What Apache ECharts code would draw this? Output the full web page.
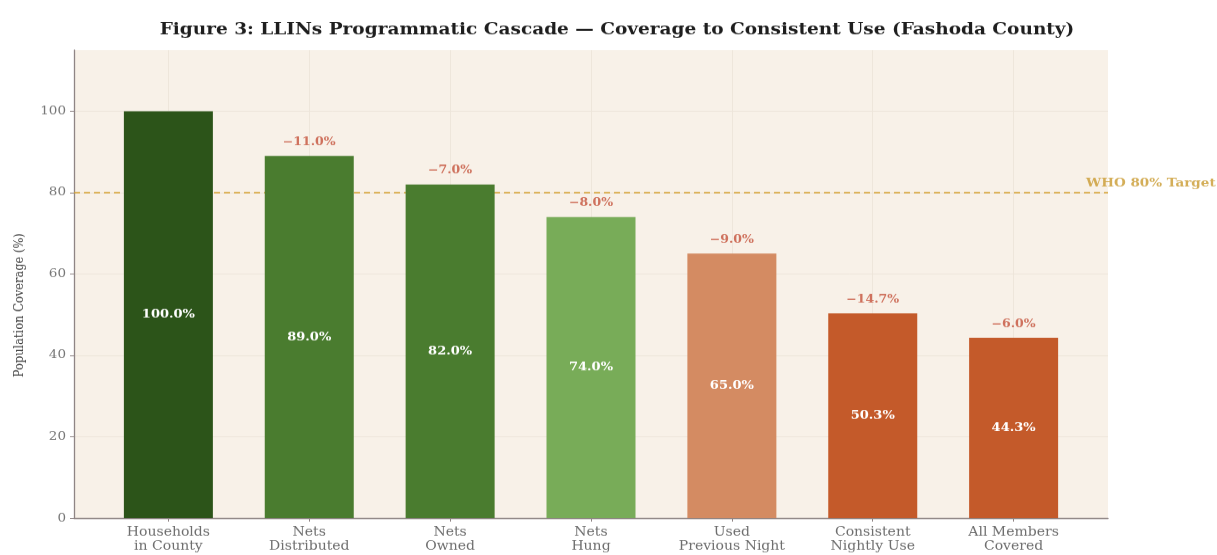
<!DOCTYPE html>
<html>
<head>
<meta charset="utf-8">
<title>LLINs Programmatic Cascade</title>
<script src="https://cdn.jsdelivr.net/npm/echarts@6/dist/echarts.min.js"></script>
<style>
  html, body { margin: 0; padding: 0; background: #ffffff; overflow: hidden; }
  #frame { width: 1217px; height: 555px; overflow: hidden; }
  /* The figure is laid out on a taller canvas and pressed to the page height,
     giving the wide, flattened lettering of the printed figure. */
  #chart { width: 1217px; height: 631px; transform: scaleY(0.8796); transform-origin: 0 0; }
</style>
</head>
<body>
<div id="frame"><div id="chart"></div></div>
<script>
// Cascade stages (two-line axis labels) and coverage values in percent
const stages = [
  'Households\nin County',
  'Nets\nDistributed',
  'Nets\nOwned',
  'Nets\nHung',
  'Used\nPrevious Night',
  'Consistent\nNightly Use',
  'All Members\nCovered'
];
const coverage = [100.0, 89.0, 82.0, 74.0, 65.0, 50.3, 44.3];
const stageColors = ['#2c5419', '#4a7c2f', '#4a7c2f', '#78ac58', '#d48b62', '#c45a2a', '#c45a2a'];
const yTicks = [0, 20, 40, 60, 80, 100];
const yMax = 115;
const targetValue = 80;
const targetLabel = 'WHO 80% Target';
const yTitle = 'Population Coverage (%)';

const SERIF = '"DejaVu Serif", "Liberation Serif", serif';
const stageIdx = stages.map((_, i) => i);

// Drop between consecutive stages, shown above each bar after the first
const drops = coverage.map((v, i) => (i === 0 ? null : v - coverage[i - 1]));
const fmtDrop = d => '\u2212' + Math.abs(d).toFixed(1) + '%';

const gridLine = { color: '#ece4d9', width: 0.9, type: 'solid' };

const chart = echarts.init(document.getElementById('chart'), null, { renderer: 'canvas' });

chart.setOption({
  backgroundColor: '#ffffff',
  animation: false,
  title: {
    text: 'Figure 3: LLINs Programmatic Cascade \u2014 Coverage to Consistent Use (Fashoda County)',
    left: 612,
    textAlign: 'center',
    top: 20,
    textStyle: { fontFamily: SERIF, fontWeight: 'bold', fontSize: 18.5, color: '#1e1e1e' }
  },
  graphic: [
    {
      // Y-axis title, rotated to read bottom-to-top
      type: 'text',
      x: 20,
      y: 347,
      rotation: Math.PI / 2,
      style: {
        text: yTitle,
        fontFamily: SERIF,
        fontSize: 13,
        fill: '#444444',
        align: 'center',
        verticalAlign: 'middle'
      }
    }
  ],
  grid: {
    left: 74, right: 109, top: 57, bottom: 42,
    show: true, backgroundColor: '#f8f1e8', borderWidth: 0
  },
  xAxis: {
    type: 'value',
    min: -0.67,
    max: 6.67,
    axisLine: { show: true, onZero: false, lineStyle: { color: '#8f8585', width: 1.3 } },
    axisTick: { show: true, customValues: stageIdx, length: 4, lineStyle: { color: '#8f8585' } },
    axisLabel: {
      customValues: stageIdx,
      formatter: v => stages[Math.round(v)] || '',
      fontFamily: SERIF, fontSize: 14, color: '#6e6e6e', lineHeight: 16, margin: 8
    },
    splitLine: { show: false }
  },
  yAxis: {
    type: 'value',
    min: 0,
    max: yMax,
    axisLine: { show: true, onZero: false, lineStyle: { color: '#8f8585', width: 1.3 } },
    axisTick: { show: true, customValues: yTicks, length: 4, lineStyle: { color: '#8f8585' } },
    axisLabel: { customValues: yTicks, fontFamily: SERIF, fontSize: 13.5, color: '#777777', margin: 8 },
    splitLine: { show: true, lineStyle: { color: '#ece4d9', width: 0.9 } }
  },
  series: [
    {
      // Background layer: vertical grid lines and the dashed target line, kept behind the bars
      type: 'scatter',
      symbolSize: 0,
      silent: true,
      data: [],
      z: 1,
      markLine: {
        silent: true,
        symbol: 'none',
        z: 1,
        label: { show: false },
        emphasis: { disabled: true },
        data: [
          ...stageIdx.map(i => [
            { coord: [i, 0], lineStyle: gridLine },
            { coord: [i, yMax] }
          ]),
          { yAxis: targetValue, lineStyle: { color: '#d4a030', width: 1.7, type: [6, 4] } }
        ]
      }
    },
    {
      // Coverage bars with the value printed in the middle of each bar
      type: 'bar',
      barWidth: 89,
      data: coverage.map((v, i) => ({ value: [i, v], itemStyle: { color: stageColors[i] } })),
      label: {
        show: true,
        position: 'inside',
        formatter: p => p.value[1].toFixed(1) + '%',
        fontFamily: SERIF, fontWeight: 'bold', fontSize: 13, color: '#ffffff'
      },
      z: 3
    },
    {
      // Stage-to-stage drop labels sitting above the bars
      type: 'scatter',
      symbolSize: 0,
      data: coverage.map((v, i) => ({ value: [i, v], drop: drops[i] })).filter(d => d.drop !== null),
      label: {
        show: true,
        position: 'top',
        distance: 9,
        formatter: p => fmtDrop(p.data.drop),
        fontFamily: SERIF, fontWeight: 'bold', fontSize: 12.5, color: '#c4513a'
      },
      z: 4
    },
    {
      // Target line caption
      type: 'scatter',
      symbolSize: 0,
      data: [[6.5, targetValue]],
      label: {
        show: true,
        position: 'right',
        distance: 0,
        offset: [2, -10],
        formatter: targetLabel,
        fontFamily: SERIF, fontWeight: 'bold', fontSize: 13.5, color: '#c99a2e'
      },
      z: 5
    }
  ]
});
</script>
</body>
</html>
